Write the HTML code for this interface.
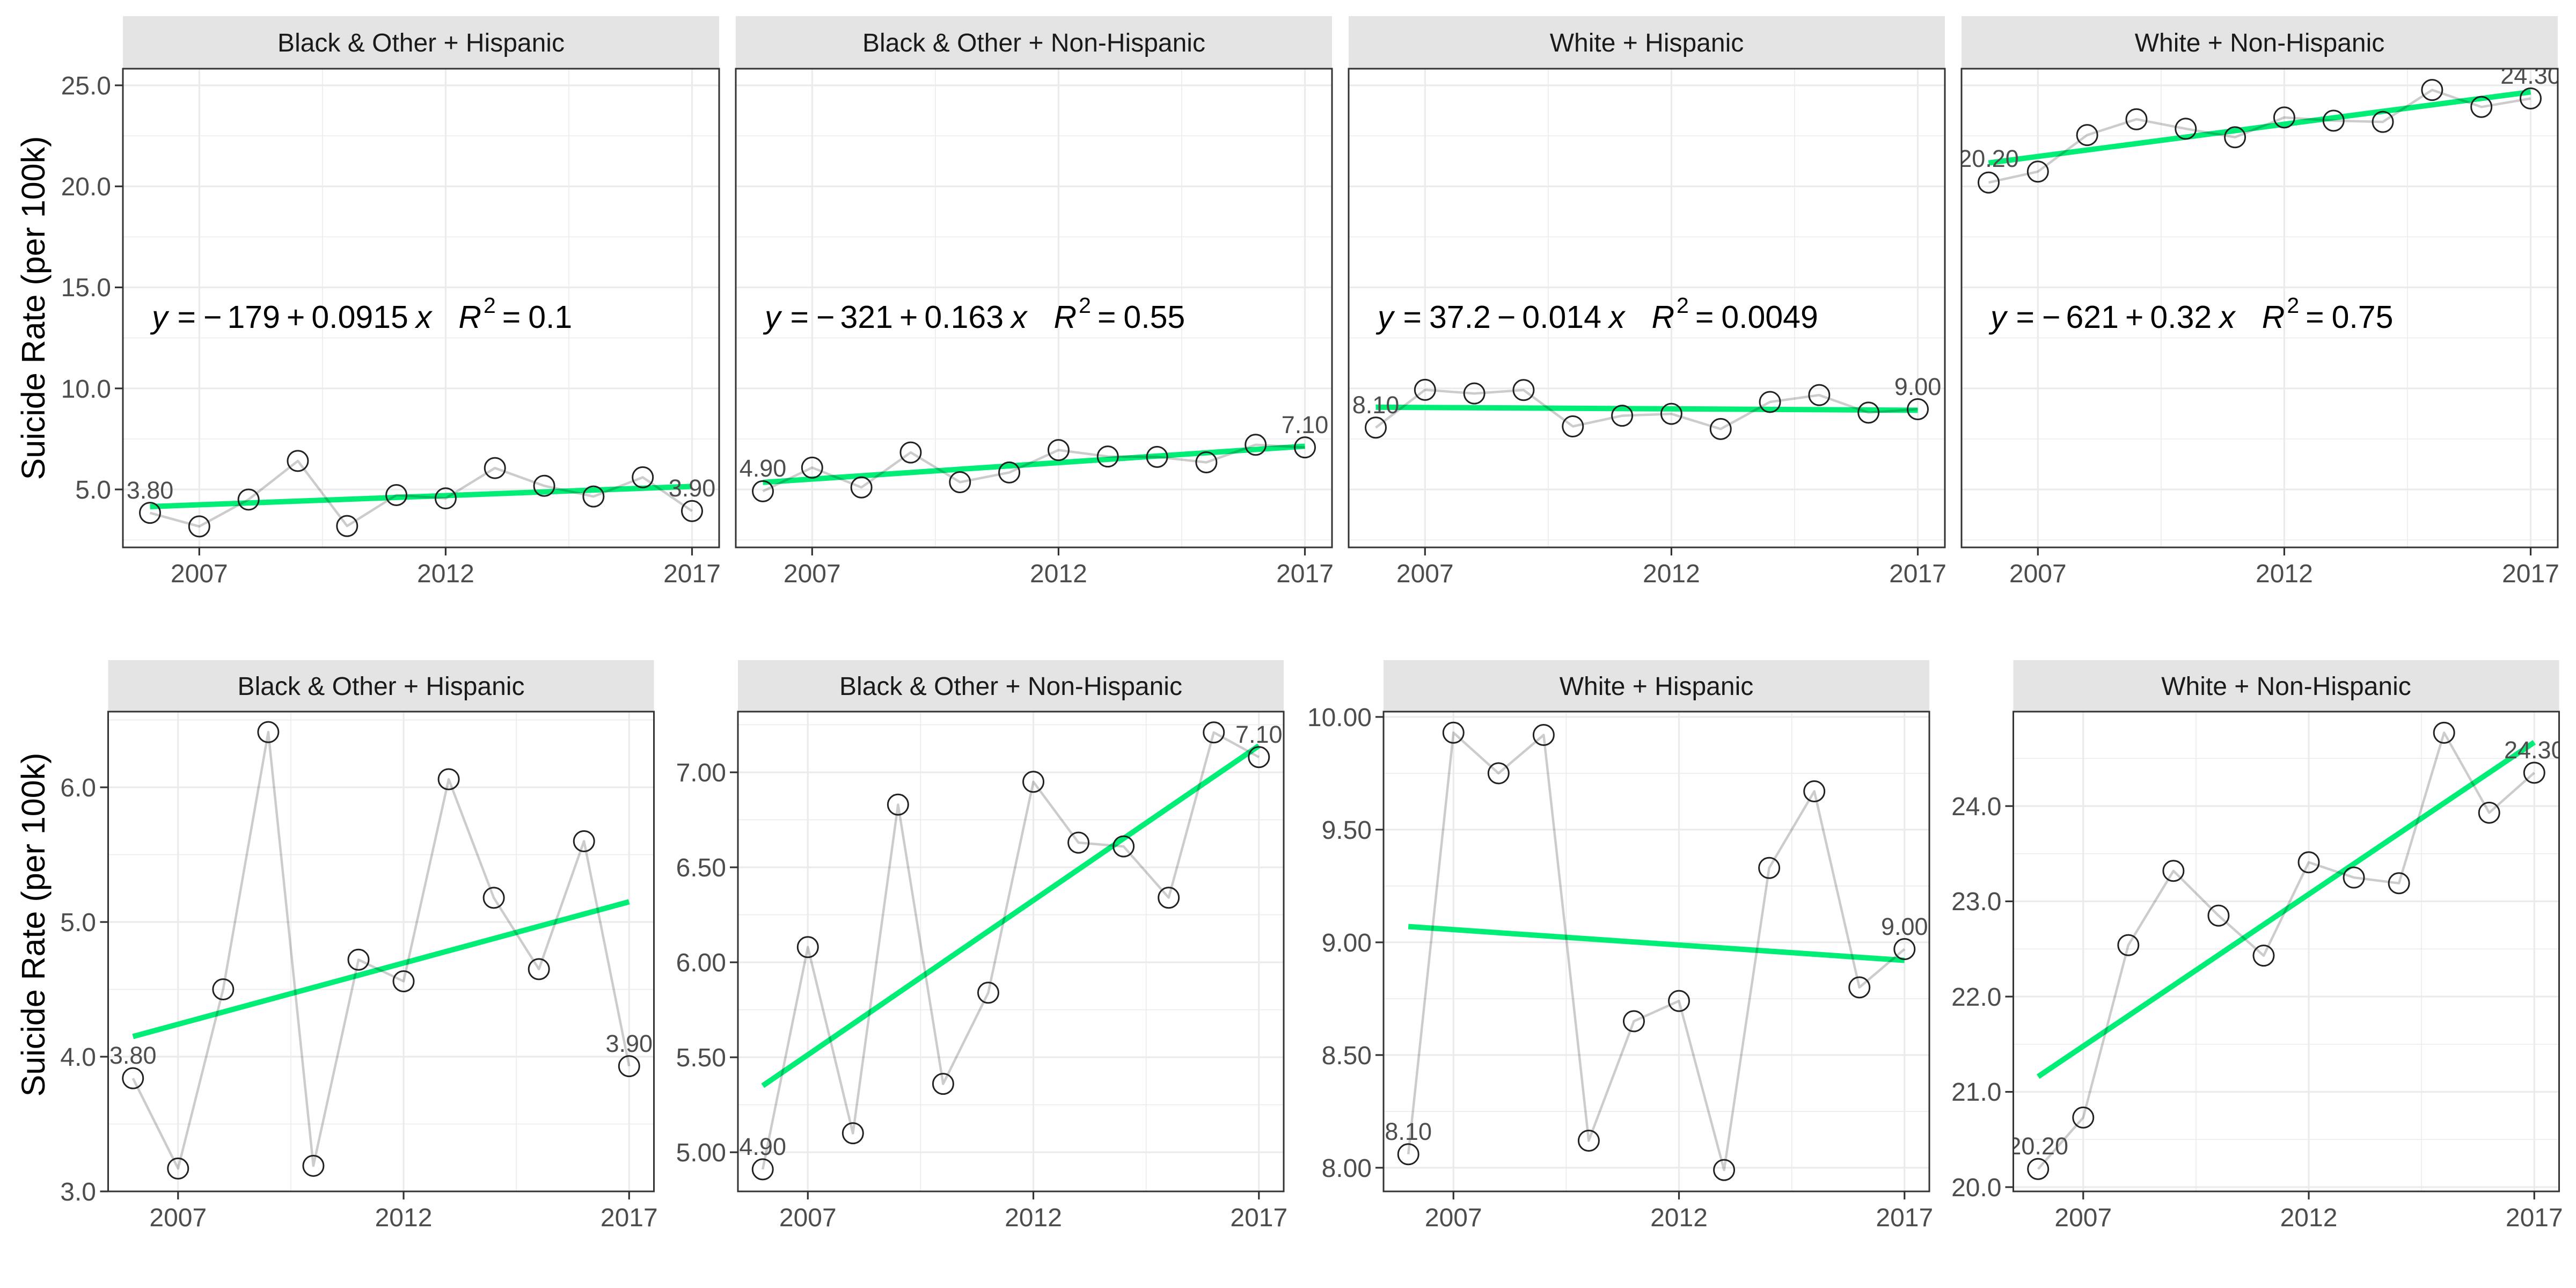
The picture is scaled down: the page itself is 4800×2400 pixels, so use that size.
<!DOCTYPE html>
<html><head><meta charset="utf-8"><style>
html,body{margin:0;padding:0;background:#fff;}
svg{display:block;font-family:"Liberation Sans",Arial,sans-serif;}
</style></head><body>
<svg id="s" width="4800" height="2400" viewBox="0 0 4800 2400" xmlns="http://www.w3.org/2000/svg">
<defs>
<clipPath id="c0"><rect x="229" y="128" width="1111" height="892"/></clipPath>
<clipPath id="c1"><rect x="1371" y="128" width="1111" height="892"/></clipPath>
<clipPath id="c2"><rect x="2513" y="128" width="1111" height="892"/></clipPath>
<clipPath id="c3"><rect x="3655" y="128" width="1111" height="892"/></clipPath>
<clipPath id="c4"><rect x="201.5" y="1326" width="1017" height="894"/></clipPath>
<clipPath id="c5"><rect x="1375" y="1326" width="1017" height="894"/></clipPath>
<clipPath id="c6"><rect x="2578" y="1326" width="1017" height="894"/></clipPath>
<clipPath id="c7"><rect x="3751.5" y="1326" width="1017" height="894"/></clipPath>
</defs>
<rect width="4800" height="2400" fill="#fff"/>
<g id="g"></g>

<!-- strips -->
<g fill="#E4E4E4">
<rect x="229" y="30" width="1111" height="98"/><rect x="1371" y="30" width="1111" height="98"/>
<rect x="2513" y="30" width="1111" height="98"/><rect x="3655" y="30" width="1111" height="98"/>
<rect x="201.5" y="1230" width="1017" height="96"/><rect x="1375" y="1230" width="1017" height="96"/>
<rect x="2578" y="1230" width="1017" height="96"/><rect x="3751.5" y="1230" width="1017" height="96"/>
</g>
<g font-size="48" fill="#1A1A1A" text-anchor="middle">
<text x="784.5" y="96">Black &amp; Other + Hispanic</text>
<text x="1926.5" y="96">Black &amp; Other + Non-Hispanic</text>
<text x="3068.5" y="96">White + Hispanic</text>
<text x="4210.5" y="96">White + Non-Hispanic</text>
<text x="710" y="1295">Black &amp; Other + Hispanic</text>
<text x="1883.5" y="1295">Black &amp; Other + Non-Hispanic</text>
<text x="3086.5" y="1295">White + Hispanic</text>
<text x="4260" y="1295">White + Non-Hispanic</text>
</g>

<!-- axis titles -->
<g font-size="61" fill="#000" text-anchor="middle">
<text transform="translate(83,574) rotate(-90)">Suicide Rate (per 100k)</text>
<text transform="translate(83,1723) rotate(-90)">Suicide Rate (per 100k)</text>
</g>

<!-- y tick labels -->
<g font-size="48" fill="#4D4D4D" text-anchor="end">
<text x="207" y="929">5.0</text><text x="207" y="741">10.0</text><text x="207" y="552">15.0</text><text x="207" y="364">20.0</text><text x="207" y="176">25.0</text>
<text x="179" y="2237">3.0</text><text x="179" y="1986">4.0</text><text x="179" y="1735">5.0</text><text x="179" y="1484">6.0</text>
<text x="1353" y="2164">5.00</text><text x="1353" y="1987">5.50</text><text x="1353" y="1810">6.00</text><text x="1353" y="1633">6.50</text><text x="1353" y="1456">7.00</text>
<text x="2556" y="2193">8.00</text><text x="2556" y="1983">8.50</text><text x="2556" y="1773">9.00</text><text x="2556" y="1563">9.50</text><text x="2556" y="1353">10.00</text>
<text x="3729.5" y="2229">20.0</text><text x="3729.5" y="2051">21.0</text><text x="3729.5" y="1874">22.0</text><text x="3729.5" y="1696">23.0</text><text x="3729.5" y="1519">24.0</text>
</g>

<!-- x tick labels -->
<g font-size="48" fill="#4D4D4D" text-anchor="middle">
<text x="371.3" y="1085">2007</text><text x="830.4" y="1085">2012</text><text x="1289.5" y="1085">2017</text>
<text x="1513.3" y="1085">2007</text><text x="1972.4" y="1085">2012</text><text x="2431.5" y="1085">2017</text>
<text x="2655.3" y="1085">2007</text><text x="3114.4" y="1085">2012</text><text x="3573.5" y="1085">2017</text>
<text x="3797.3" y="1085">2007</text><text x="4256.4" y="1085">2012</text><text x="4715.5" y="1085">2017</text>
<text x="331.8" y="2285">2007</text><text x="752" y="2285">2012</text><text x="1172.3" y="2285">2017</text>
<text x="1505.3" y="2285">2007</text><text x="1925.5" y="2285">2012</text><text x="2345.8" y="2285">2017</text>
<text x="2708.3" y="2285">2007</text><text x="3128.5" y="2285">2012</text><text x="3548.8" y="2285">2017</text>
<text x="3881.8" y="2285">2007</text><text x="4302" y="2285">2012</text><text x="4722.3" y="2285">2017</text>
</g>

<!-- point labels -->
<g font-size="45" fill="#4D4D4D" text-anchor="middle">
<g clip-path="url(#c0)"><text x="279.5" y="929">3.80</text><text x="1289.5" y="925">3.90</text></g>
<g clip-path="url(#c1)"><text x="1421.5" y="888">4.90</text><text x="2431.5" y="807">7.10</text></g>
<g clip-path="url(#c2)"><text x="2563.5" y="770">8.10</text><text x="3573.5" y="736">9.00</text></g>
<g clip-path="url(#c3)"><text x="3705.5" y="311">20.20</text><text x="4715.5" y="156">24.30</text></g>
<g clip-path="url(#c4)"><text x="247.7" y="1982">3.80</text><text x="1172.3" y="1960">3.90</text></g>
<g clip-path="url(#c5)"><text x="1421.2" y="2152">4.90</text><text x="2345.8" y="1384">7.10</text></g>
<g clip-path="url(#c6)"><text x="2624.2" y="2124">8.10</text><text x="3548.8" y="1742">9.00</text></g>
<g clip-path="url(#c7)"><text x="3797.7" y="2151">20.20</text><text x="4722.3" y="1413">24.30</text></g>
</g>

<!-- equations -->
<g font-size="59" fill="#000">
<text x="283" y="611"><tspan font-style="italic">y</tspan><tspan dx="18">=</tspan><tspan dx="14">−</tspan><tspan dx="10">179</tspan><tspan dx="12">+</tspan><tspan dx="12">0.0915</tspan><tspan dx="14" font-style="italic">x</tspan><tspan dx="50" font-style="italic">R</tspan><tspan dx="4" dy="-28" font-size="41">2</tspan><tspan dx="12" dy="28">=</tspan><tspan dx="14">0.1</tspan></text>
<text x="1425" y="611"><tspan font-style="italic">y</tspan><tspan dx="18">=</tspan><tspan dx="14">−</tspan><tspan dx="10">321</tspan><tspan dx="12">+</tspan><tspan dx="12">0.163</tspan><tspan dx="14" font-style="italic">x</tspan><tspan dx="50" font-style="italic">R</tspan><tspan dx="4" dy="-28" font-size="41">2</tspan><tspan dx="12" dy="28">=</tspan><tspan dx="14">0.55</tspan></text>
<text x="2567" y="611"><tspan font-style="italic">y</tspan><tspan dx="18">=</tspan><tspan dx="14">37.2</tspan><tspan dx="12">−</tspan><tspan dx="12">0.014</tspan><tspan dx="14" font-style="italic">x</tspan><tspan dx="50" font-style="italic">R</tspan><tspan dx="4" dy="-28" font-size="41">2</tspan><tspan dx="12" dy="28">=</tspan><tspan dx="14">0.0049</tspan></text>
<text x="3709" y="611"><tspan font-style="italic">y</tspan><tspan dx="18">=</tspan><tspan dx="14">−</tspan><tspan dx="10">621</tspan><tspan dx="12">+</tspan><tspan dx="12">0.32</tspan><tspan dx="14" font-style="italic">x</tspan><tspan dx="50" font-style="italic">R</tspan><tspan dx="4" dy="-28" font-size="41">2</tspan><tspan dx="12" dy="28">=</tspan><tspan dx="14">0.75</tspan></text>
</g>
<g id="borders"></g>
</svg>
<script>
(function(){
var NS="http://www.w3.org/2000/svg";
var g=document.getElementById("g"),gb=document.getElementById("borders");
function el(p,n,a){var e=document.createElementNS(NS,n);for(var k in a)e.setAttribute(k,a[k]);p.appendChild(e);return e;}
var D=[[3.84,3.17,4.50,6.41,3.19,4.72,4.56,6.06,5.18,4.65,5.60,3.93],
[4.91,6.08,5.10,6.83,5.36,5.84,6.95,6.63,6.61,6.34,7.21,7.08],
[8.06,9.93,9.75,9.92,8.12,8.65,8.74,7.99,9.33,9.67,8.80,8.97],
[20.19,20.73,22.54,23.32,22.85,22.43,23.41,23.25,23.19,24.77,23.93,24.35]];
var F=[[4.15,5.15],[5.35,7.14],[9.07,8.92],[21.16,24.67]];
var topMaj=[5,10,15,20,25],topMin=[2.5,7.5,12.5,17.5,22.5];
var P=[
{L:229,T:128,W:1111,H:892,v0:2.1315,v1:25.823,d:0,maj:topMaj,min:topMin,yt:1},
{L:1371,T:128,W:1111,H:892,v0:2.1315,v1:25.823,d:1,maj:topMaj,min:topMin,yt:0},
{L:2513,T:128,W:1111,H:892,v0:2.1315,v1:25.823,d:2,maj:topMaj,min:topMin,yt:0},
{L:3655,T:128,W:1111,H:892,v0:2.1315,v1:25.823,d:3,maj:topMaj,min:topMin,yt:0},
{L:201.5,T:1326,W:1017,H:894,v0:3.0,v1:6.562,d:0,maj:[3,4,5,6],min:[3.5,4.5,5.5,6.5],yt:1},
{L:1375,T:1326,W:1017,H:894,v0:4.794,v1:7.3195,d:1,maj:[5,5.5,6,6.5,7],min:[5.25,5.75,6.25,6.75,7.25],yt:1},
{L:2578,T:1326,W:1017,H:894,v0:7.895,v1:10.0236,d:2,maj:[8,8.5,9,9.5,10],min:[8.25,8.75,9.25,9.75],yt:1},
{L:3751.5,T:1326,W:1017,H:894,v0:19.955,v1:24.9916,d:3,maj:[20,21,22,23,24],min:[20.5,21.5,22.5,23.5,24.5],yt:1}];
P.forEach(function(p,i){
  var B=p.T+p.H,R=p.L+p.W;
  function X(yr){return p.L+(yr-2005.45)*p.W/12.1;}
  function Y(v){return B-(v-p.v0)*p.H/(p.v1-p.v0);}
  el(g,"rect",{x:p.L,y:p.T,width:p.W,height:p.H,fill:"#fff"});
  var gg=el(g,"g",{"clip-path":"url(#c"+i+")",stroke:"#EBEBEB"});
  p.min.forEach(function(v){var y=Y(v);el(gg,"line",{x1:p.L,x2:R,y1:y,y2:y,"stroke-width":1.6});});
  [2009.5,2014.5].forEach(function(yr){var x=X(yr);el(gg,"line",{x1:x,x2:x,y1:p.T,y2:B,"stroke-width":1.6});});
  p.maj.forEach(function(v){var y=Y(v);el(gg,"line",{x1:p.L,x2:R,y1:y,y2:y,"stroke-width":3.2});});
  [2007,2012,2017].forEach(function(yr){var x=X(yr);el(gg,"line",{x1:x,x2:x,y1:p.T,y2:B,"stroke-width":3.2});});
  var gd=el(g,"g",{"clip-path":"url(#c"+i+")"});
  var f=F[p.d];
  el(gd,"line",{x1:X(2006),y1:Y(f[0]),x2:X(2017),y2:Y(f[1]),stroke:"#00EE76","stroke-width":10});
  var pts=D[p.d].map(function(v,k){return X(2006+k).toFixed(1)+","+Y(v).toFixed(1);}).join(" ");
  el(gd,"polyline",{points:pts,fill:"none",stroke:"rgba(0,0,0,0.2)","stroke-width":4.5,"stroke-linejoin":"round"});
  D[p.d].forEach(function(v,k){el(gd,"circle",{cx:X(2006+k),cy:Y(v),r:19,fill:"none",stroke:"#222","stroke-width":3});});
  el(gb,"rect",{x:p.L,y:p.T,width:p.W,height:p.H,fill:"none",stroke:"#333","stroke-width":3});
  [2007,2012,2017].forEach(function(yr){var x=X(yr);el(gb,"line",{x1:x,x2:x,y1:B,y2:B+15,stroke:"#333","stroke-width":3.2});});
  if(p.yt)p.maj.forEach(function(v){var y=Y(v);el(gb,"line",{x1:p.L-15,x2:p.L,y1:y,y2:y,stroke:"#333","stroke-width":3.2});});
});
})();
</script>
</body></html>
